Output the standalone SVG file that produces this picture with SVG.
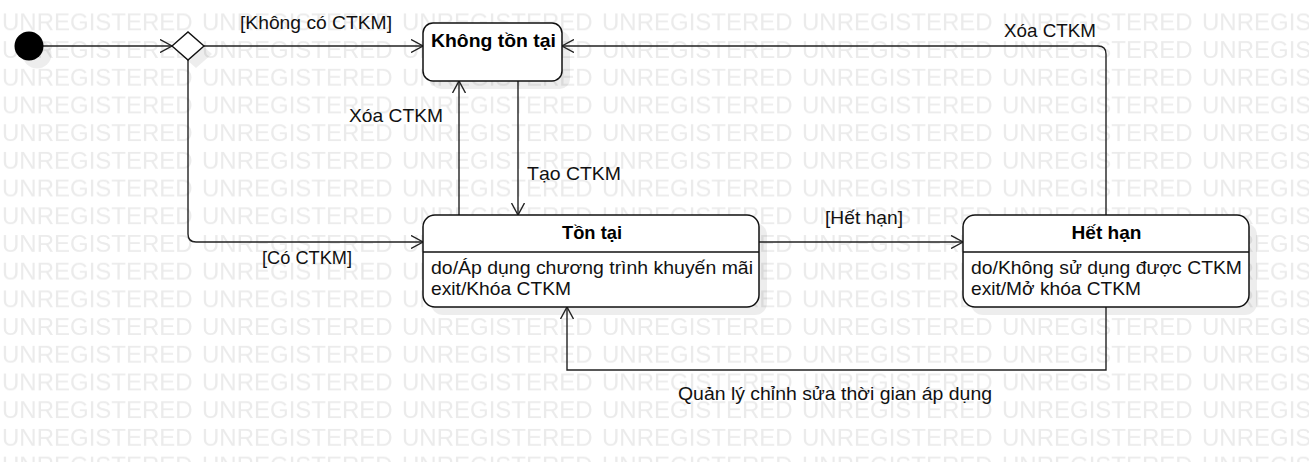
<svg xmlns="http://www.w3.org/2000/svg" width="1309" height="462" viewBox="0 0 1309 462">
<style>
.wm{font-family:"Liberation Sans",Arial,sans-serif;font-size:24px;fill:#ebebeb}
.lbl{font-family:"Liberation Sans",Arial,sans-serif;font-size:19px;fill:#111}
.ttl{font-family:"Liberation Sans",Arial,sans-serif;font-size:19px;font-weight:bold;fill:#000;text-anchor:middle}
.box{fill:#fff;stroke:#111;stroke-width:1.5}
.shd{fill:#000;fill-opacity:0.07}
.ln{fill:none;stroke:#222;stroke-width:1.4}
</style>
<defs>
<pattern id="wmp" patternUnits="userSpaceOnUse" x="2" y="8.5" width="200" height="27.7">
<text class="wm" x="0" y="22">UNREGISTERED</text>
</pattern>
<marker id="arr" markerWidth="14" markerHeight="14" refX="12" refY="7" orient="auto" markerUnits="userSpaceOnUse">
<path d="M0,0.5 L12,7 L0,13.5" fill="none" stroke="#222" stroke-width="1.4"/>
</marker>
</defs>
<rect x="0" y="8" width="1309" height="454" fill="url(#wmp)"/>
<g id="shadows">
<circle class="shd" cx="37" cy="54" r="14.5"/>
<polygon class="shd" points="180,54 196,40 212,54 196,68"/>
<rect class="shd" x="431" y="31" width="139" height="58" rx="10"/>
<rect class="shd" x="431" y="223" width="336" height="92" rx="12"/>
<rect class="shd" x="971" y="223" width="286" height="92" rx="12"/>
</g>
<g id="connectors">
<line class="ln" x1="43" y1="46" x2="172" y2="46" marker-end="url(#arr)"/>
<line class="ln" x1="204" y1="46" x2="423" y2="46" marker-end="url(#arr)"/>
<text class="lbl" x="240" y="29" textLength="152" lengthAdjust="spacingAndGlyphs">[Không có CTKM]</text>
<path class="ln" d="M188,60 L188,234 Q188,242 196,242 L423,242" marker-end="url(#arr)"/>
<text class="lbl" x="262" y="264" textLength="90" lengthAdjust="spacingAndGlyphs">[Có CTKM]</text>
<line class="ln" x1="518" y1="81" x2="518" y2="215" marker-end="url(#arr)"/>
<text class="lbl" x="527" y="180" textLength="94" lengthAdjust="spacingAndGlyphs">Tạo CTKM</text>
<line class="ln" x1="459" y1="215" x2="459" y2="81" marker-end="url(#arr)"/>
<text class="lbl" x="349" y="122" textLength="94" lengthAdjust="spacingAndGlyphs">Xóa CTKM</text>
<line class="ln" x1="759" y1="242" x2="963" y2="242" marker-end="url(#arr)"/>
<text class="lbl" x="825" y="224" textLength="78" lengthAdjust="spacingAndGlyphs">[Hết hạn]</text>
<path class="ln" d="M1106,215 L1106,54 Q1106,46 1098,46 L562,46" marker-end="url(#arr)"/>
<text class="lbl" x="1004" y="37" textLength="92" lengthAdjust="spacingAndGlyphs">Xóa CTKM</text>
<path class="ln" d="M1106,307 L1106,370 L567,370 L567,307" marker-end="url(#arr)"/>
<text class="lbl" x="678" y="400" textLength="314" lengthAdjust="spacingAndGlyphs">Quản lý chỉnh sửa thời gian áp dụng</text>
</g>
<g id="initial">
<circle cx="29" cy="46" r="14.5" fill="#000"/>
</g>
<g id="decision">
<polygon points="172,46 188,32 204,46 188,60" fill="#fff" stroke="#111" stroke-width="1.4"/>
</g>
<g id="khong-ton-tai">
<rect class="box" x="423" y="23" width="139" height="58" rx="10"/>
<text class="ttl" x="493.5" y="47" textLength="125" lengthAdjust="spacingAndGlyphs">Không tồn tại</text>
</g>
<g id="ton-tai">
<rect class="box" x="423" y="215" width="336" height="92" rx="12"/>
<line x1="423" y1="252" x2="759" y2="252" stroke="#111" stroke-width="1.5"/>
<text class="ttl" x="592" y="239" textLength="60" lengthAdjust="spacingAndGlyphs">Tồn tại</text>
<text class="lbl" x="431" y="274" textLength="322" lengthAdjust="spacingAndGlyphs">do/Áp dụng chương trình khuyến mãi</text>
<text class="lbl" x="431" y="295" textLength="140" lengthAdjust="spacingAndGlyphs">exit/Khóa CTKM</text>
</g>
<g id="het-han">
<rect class="box" x="963" y="215" width="286" height="92" rx="12"/>
<line x1="963" y1="252" x2="1249" y2="252" stroke="#111" stroke-width="1.5"/>
<text class="ttl" x="1106.5" y="239" textLength="70" lengthAdjust="spacingAndGlyphs">Hết hạn</text>
<text class="lbl" x="971" y="274" textLength="271" lengthAdjust="spacingAndGlyphs">do/Không sử dụng được CTKM</text>
<text class="lbl" x="971" y="295" textLength="170" lengthAdjust="spacingAndGlyphs">exit/Mở khóa CTKM</text>
</g>
</svg>
